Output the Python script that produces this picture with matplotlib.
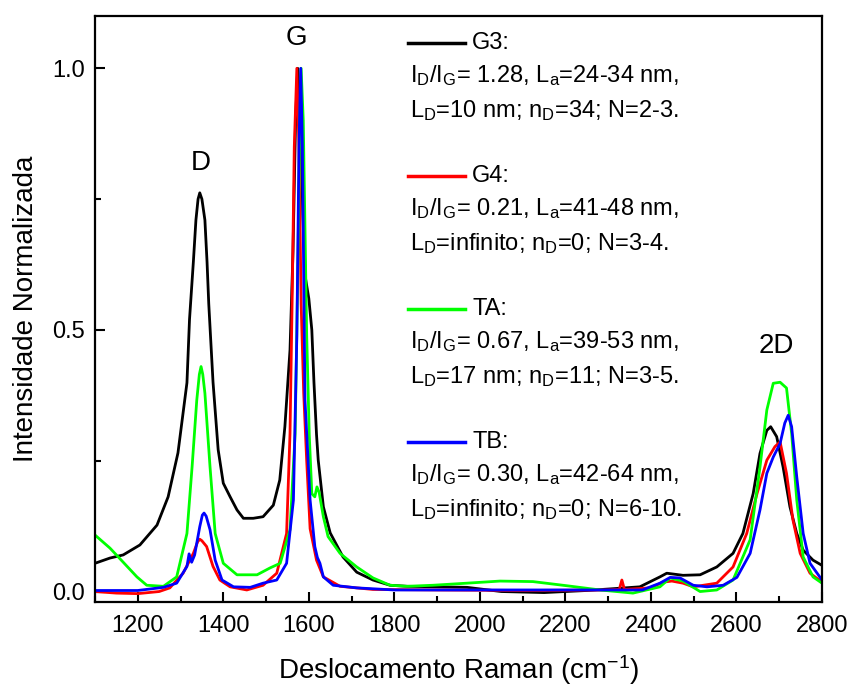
import matplotlib
matplotlib.use("Agg")
import matplotlib.pyplot as plt
from matplotlib.ticker import MultipleLocator

# ---------------- data ----------------
g3_x = [1100, 1135, 1166, 1205, 1245, 1271, 1294, 1315, 1321, 1330, 1336, 1341, 1345, 1350, 1357, 1362, 1366, 1376,
        1388, 1400, 1416, 1432, 1447, 1470, 1493, 1517, 1532, 1544, 1556, 1563, 1569, 1574,
        1580, 1586, 1592, 1600, 1607, 1612, 1618, 1622, 1634, 1650, 1680, 1712, 1750, 1790,
        1830, 1900, 1970, 2050, 2150, 2250, 2304, 2374, 2421, 2437, 2475, 2515, 2554, 2592,
        2615, 2639, 2655, 2671, 2680, 2694, 2709, 2725, 2741, 2756, 2779, 2800]
g3_y = [0.054, 0.064, 0.070, 0.089, 0.127, 0.181, 0.265, 0.399, 0.52, 0.63, 0.71, 0.75, 0.762, 0.75, 0.71, 0.63, 0.55, 0.40,
        0.271, 0.207, 0.181, 0.156, 0.140, 0.140, 0.143, 0.165, 0.213, 0.315, 0.462, 0.65, 0.90, 1.0,
        0.92, 0.72, 0.60, 0.56, 0.50, 0.40, 0.30, 0.251, 0.162, 0.112, 0.066, 0.037, 0.022, 0.012,
        0.010, 0.009, 0.008, 0.0, -0.002, 0.002, 0.005, 0.009, 0.028, 0.035, 0.031, 0.032, 0.047, 0.073,
        0.111, 0.187, 0.264, 0.308, 0.315, 0.296, 0.238, 0.162, 0.111, 0.079, 0.060, 0.050]

g4_x = [1100, 1150, 1200, 1250, 1275, 1306, 1330, 1340, 1345, 1350, 1361, 1376, 1392, 1416, 1455, 1493,
        1525, 1548, 1556, 1561, 1566, 1572, 1577, 1582, 1588, 1595, 1603, 1618, 1634, 1673,
        1750, 1900, 2100, 2300, 2326, 2332, 2338, 2398, 2429, 2449, 2475, 2499, 2554, 2592,
        2624, 2648, 2671, 2690, 2702, 2717, 2732, 2749, 2772, 2800]
g4_y = [0.0, -0.003, -0.004, 0.0, 0.007, 0.035, 0.073, 0.095, 0.100, 0.097, 0.086, 0.048, 0.022, 0.009, 0.003, 0.012,
        0.035, 0.111, 0.302, 0.557, 0.85, 1.0, 0.85, 0.55, 0.38, 0.25, 0.12, 0.06, 0.028, 0.010,
        0.004, 0.003, 0.002, 0.003, 0.004, 0.022, 0.004, 0.007, 0.018, 0.020, 0.016, 0.009, 0.016, 0.047,
        0.111, 0.187, 0.251, 0.277, 0.286, 0.226, 0.137, 0.073, 0.035, 0.018]

ta_x = [1100, 1135, 1166, 1198, 1221, 1260, 1291, 1315, 1327, 1338, 1344, 1348, 1352, 1357, 1369, 1381,
        1400, 1432, 1479, 1509, 1533, 1556, 1568, 1574, 1579, 1582, 1587, 1595, 1601, 1607,
        1614, 1619, 1624, 1634, 1645, 1673, 1712, 1750, 1790, 1830, 1890, 1970, 2047, 2124,
        2204, 2281, 2358, 2421, 2445, 2475, 2515, 2554, 2592, 2632, 2655, 2671, 2686, 2702,
        2717, 2729, 2741, 2756, 2779, 2800]
ta_y = [0.108, 0.083, 0.056, 0.028, 0.012, 0.010, 0.028, 0.111, 0.238, 0.366, 0.415, 0.430, 0.415, 0.379, 0.238, 0.111,
        0.054, 0.032, 0.032, 0.045, 0.054, 0.118, 0.302, 0.60, 0.90, 1.0, 0.90, 0.49, 0.30, 0.187,
        0.181, 0.200, 0.190, 0.143, 0.105, 0.073, 0.047, 0.026, 0.012, 0.010, 0.012, 0.016, 0.020, 0.019,
        0.011, 0.003, -0.003, 0.009, 0.026, 0.020, 0.0, 0.003, 0.022, 0.099, 0.238, 0.347, 0.398, 0.400,
        0.389, 0.302, 0.175, 0.066, 0.028, 0.016]

tb_x = [1100, 1200, 1260, 1291, 1315, 1320, 1326, 1333, 1345, 1351, 1355, 1360, 1369, 1381, 1397, 1424,
        1463, 1493, 1525, 1548, 1564, 1572, 1577, 1581, 1585, 1591, 1603, 1614, 1620, 1626,
        1634, 1657, 1712, 1800, 2000, 2200, 2380, 2421, 2445, 2468, 2499, 2531, 2569, 2601,
        2632, 2655, 2671, 2686, 2702, 2713, 2721, 2729, 2741, 2756, 2772, 2800]
tb_y = [0.002, 0.002, 0.008, 0.016, 0.048, 0.072, 0.056, 0.070, 0.124, 0.146, 0.150, 0.144, 0.118, 0.060, 0.022, 0.009,
        0.008, 0.016, 0.022, 0.054, 0.175, 0.49, 0.85, 1.0, 0.85, 0.366, 0.175, 0.086, 0.065, 0.054,
        0.028, 0.012, 0.007, 0.003, 0.003, 0.003, 0.003, 0.016, 0.027, 0.026, 0.012, 0.009, 0.012, 0.027,
        0.073, 0.156, 0.226, 0.257, 0.283, 0.322, 0.337, 0.315, 0.219, 0.111, 0.054, 0.022]

series_names = ["G3:", "G4:", "TA:", "TB:"]
series_colors = ["#000000", "#ff0000", "#00ff00", "#0000ff"]
series_info = [
    (r"$\mathregular{I_D/I_G}$= 1.28, $\mathregular{L_a}$=24-34 nm,",
     r"$\mathregular{L_D}$=10 nm; $\mathregular{n_D}$=34; N=2-3."),
    (r"$\mathregular{I_D/I_G}$= 0.21, $\mathregular{L_a}$=41-48 nm,",
     r"$\mathregular{L_D}$=infinito; $\mathregular{n_D}$=0; N=3-4."),
    (r"$\mathregular{I_D/I_G}$= 0.67, $\mathregular{L_a}$=39-53 nm,",
     r"$\mathregular{L_D}$=17 nm; $\mathregular{n_D}$=11; N=3-5."),
    (r"$\mathregular{I_D/I_G}$= 0.30, $\mathregular{L_a}$=42-64 nm,",
     r"$\mathregular{L_D}$=infinito; $\mathregular{n_D}$=0; N=6-10."),
]
peak_labels = ["D", "G", "2D"]
peak_pos = [(1347, 0.82), (1572, 1.058), (2694, 0.47)]

x_ticks = [1200, 1400, 1600, 1800, 2000, 2200, 2400, 2600, 2800]
y_ticks = [0.0, 0.5, 1.0]

# ---------------- style ----------------
plt.rcParams['font.family'] = ['Liberation Sans', 'DejaVu Sans']
plt.rcParams['mathtext.fontset'] = 'custom'
plt.rcParams['mathtext.rm'] = 'Liberation Sans'
plt.rcParams['mathtext.it'] = 'Liberation Sans:italic'

fig = plt.figure(figsize=(8.51, 6.89), dpi=100)
ax = fig.add_axes([95/851, 1 - 602/689, (822-95)/851, (602-16)/689])

data = [(g3_x, g3_y), (g4_x, g4_y), (ta_x, ta_y), (tb_x, tb_y)]
for (xs, ys), c in zip(data, series_colors):
    ax.plot(xs, ys, color=c, lw=2.0, solid_joinstyle='round')

ax.set_xlim(1100, 2800)
ax.set_ylim(-0.02, 1.1)
ax.set_xticks(x_ticks)
ax.set_yticks(y_ticks)
ax.set_yticklabels([f"{v:.1f}" for v in y_ticks])
ax.xaxis.set_minor_locator(MultipleLocator(100))
ax.yaxis.set_minor_locator(MultipleLocator(0.25))
ax.tick_params(which='both', direction='in', width=1.5, top=False, right=False,
               labelsize=17)
ax.tick_params(which='major', length=7.5)
ax.tick_params(which='minor', length=4)
ax.tick_params(axis='x', pad=9)
ax.tick_params(axis='y', pad=7)
for s in ax.spines.values():
    s.set_linewidth(1.6)

ax.set_xlabel(r"Deslocamento Raman (cm$^{\mathregular{-1}}$)", fontsize=20, labelpad=12)
ax.set_ylabel("Intensidade Normalizada", fontsize=20, labelpad=10)

for lab, (px, py) in zip(peak_labels, peak_pos):
    ax.text(px, py, lab, fontsize=20, ha='center', va='center')

# custom legend blocks
top = 0.954
step = 0.227
for i, (name, c, (l1, l2)) in enumerate(zip(series_names, series_colors, series_info)):
    yb = top - i * step
    ax.plot([0.4305, 0.509], [yb, yb], color=c, lw=2.5, transform=ax.transAxes)
    ax.text(0.5186, yb, name, fontsize=17, va='center', ha='left', transform=ax.transAxes)
    ax.text(0.4333, yb - 0.056, l1, fontsize=17, va='center', ha='left', transform=ax.transAxes)
    ax.text(0.4333, yb - 0.115, l2, fontsize=17, va='center', ha='left', transform=ax.transAxes)

fig.savefig("out.png", dpi=100)
